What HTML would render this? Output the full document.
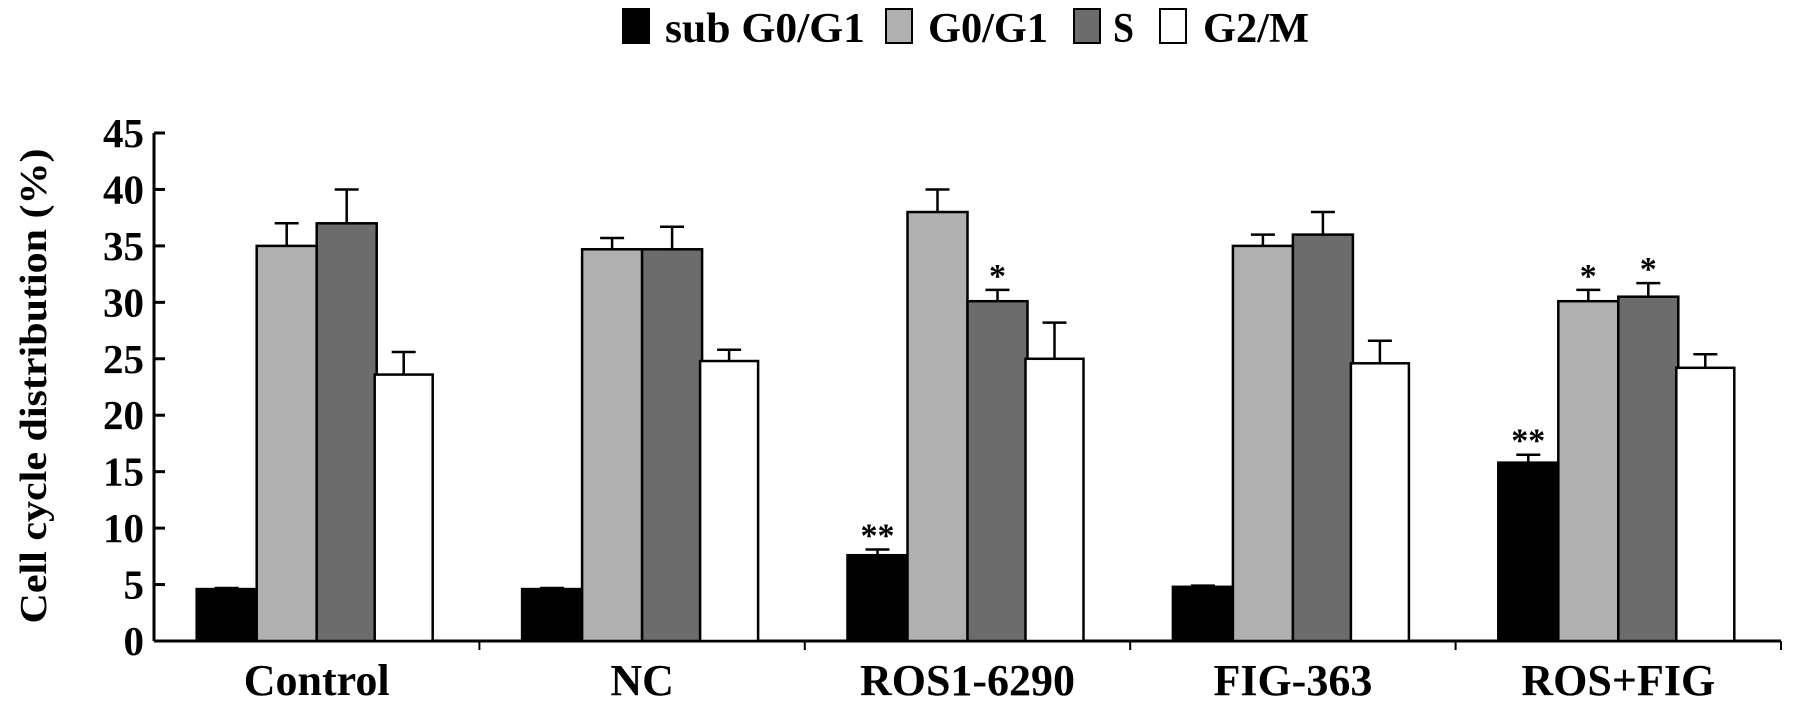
<!DOCTYPE html>
<html><head><meta charset="utf-8"><style>
body{margin:0;background:#fff}
svg text{font-family:"Liberation Serif",serif;font-weight:bold;fill:#000}
</style></head><body>
<svg id="chart" width="1795" height="709" xmlns="http://www.w3.org/2000/svg">
<g id="legend"></g>
<text transform="translate(46,386) rotate(-90)" text-anchor="middle" font-size="38" textLength="475" lengthAdjust="spacingAndGlyphs">Cell cycle distribution (%)</text>
<g id="axes"></g><g id="bars"></g>
</svg>
<script>
const categories=["Control","NC","ROS1-6290","FIG-363","ROS+FIG"];
const seriesNames=["sub G0/G1","G0/G1","S","G2/M"];
const subG=[4.6,4.6,7.6,4.8,15.8];
const g0g1=[35,34.7,38,35,30.1];
const sPhase=[37,34.7,30.1,36,30.5];
const g2m=[23.6,24.8,25,24.6,24.2];
const subGErr=[0.1,0.1,0.5,0.1,0.7];
const g0g1Err=[2,1,2,1,1];
const sErr=[3,2,1,2,1.2];
const g2mErr=[2,1,3.2,2,1.2];
const subGSig=["","","**","","**"];
const g0g1Sig=["","","","","*"];
const sSig=["","","*","","*"];
const g2mSig=["","","","",""];
const yTicks=[0,5,10,15,20,25,30,35,40,45];
const NS="http://www.w3.org/2000/svg";
const x0=154,x1=1781,y0=641,yTop=133,yMax=45;
const fills=["#000","#b0b0b0","#6c6c6c","#fff"];
function y(v){return y0-(v/yMax)*(y0-yTop);}
const gw=(x1-x0)/categories.length;
function gx(i){return x0+gw*i;}
function mk(t,a,p){const e=document.createElementNS(NS,t);for(const k in a)e.setAttribute(k,a[k]);p.appendChild(e);return e;}
const ax=document.getElementById('axes'),bg=document.getElementById('bars'),lg=document.getElementById('legend');
let l=mk('line',{x1:x0,y1:yTop,x2:x0,y2:y0,stroke:'#000','stroke-width':3},ax);


l=mk('line',{x1:x0,y1:y0,x2:x1,y2:y0,stroke:'#000','stroke-width':3},ax);


yTicks.forEach(v=>{
 const t=mk('line',{x1:x0,y1:y(v),x2:x0+11,y2:y(v),stroke:'#000','stroke-width':3},ax);
 
 
 const tx=mk('text',{x:x0-10,y:y(v)+14,'text-anchor':'end','font-size':41},ax);
 tx.textContent=v;
 
 
});
const series=[subG,g0g1,sPhase,g2m],errs=[subGErr,g0g1Err,sErr,g2mErr],sigs=[subGSig,g0g1Sig,sSig,g2mSig];
const bw=60;
categories.forEach((c,i)=>{
 const tk=mk('line',{x1:gx(i+1),y1:y0,x2:gx(i+1),y2:y0+9,stroke:'#000','stroke-width':2},ax);
 
 
 const cx=gx(i)+gw/2;
 const lb=mk('text',{x:cx,y:y0+54,'text-anchor':'middle','font-size':44},ax);
 lb.textContent=c;
 
 
 series.forEach((s,j)=>{
  const bx=cx-2*bw+j*bw+(j==3?-2:0), w=j==3?bw-2:bw;
  const r=mk('rect',{x:bx,y:y(s[i]),width:w,height:y0-y(s[i]),fill:fills[j],stroke:'#000','stroke-width':2.5},bg);
  
  
  const mx=bx+w/2, et=y(s[i]+errs[j][i]);
  const e=mk('path',{d:`M${mx},${y(s[i])}V${et}M${mx-12},${et}H${mx+12}`,stroke:'#000','stroke-width':2.5,fill:'none'},bg);
  
  
  if(sigs[j][i]){
   const st=mk('text',{x:mx,y:et-3,'text-anchor':'middle','font-size':34},bg);
   st.textContent=sigs[j][i];
   
   
  }
 });
});
const lx=[623,886,1074,1160],lt=[665,928,1113,1203],lw=[200,120,21,106];
seriesNames.forEach((n,j)=>{
 const r=mk('rect',{x:lx[j],y:9,width:26,height:34,fill:fills[j],stroke:'#000','stroke-width':2},lg);
 
 
 const t=mk('text',{x:lt[j],y:42,'font-size':42,textLength:lw[j],lengthAdjust:'spacingAndGlyphs'},lg);
 t.textContent=n;
 
 
});
</script>
</body></html>
